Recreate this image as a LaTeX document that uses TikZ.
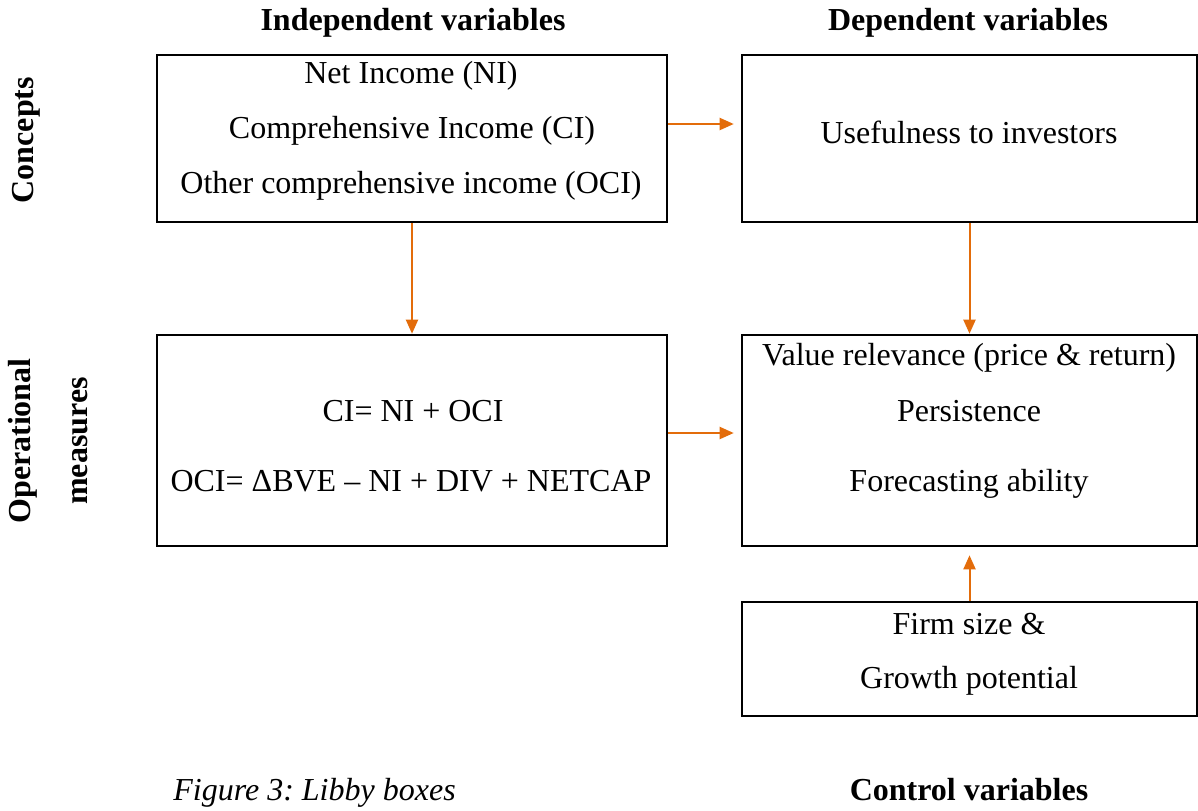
\documentclass[tikz,border=0pt]{standalone}
\usepackage{fontspec}
\setmainfont{Liberation Serif}
\usetikzlibrary{arrows.meta}
\definecolor{arrorange}{HTML}{E36C0A}
\frenchspacing
\begin{document}
\begin{tikzpicture}[x=0.5pt,y=-0.5pt,
  font=\fontsize{16pt}{19pt}\selectfont,
  box/.style={draw=black,line width=1.3pt,rectangle,inner sep=0pt},
  txt/.style={anchor=base,inner sep=0pt},
  hdr/.style={anchor=base,inner sep=0pt,font=\fontsize{16pt}{19pt}\selectfont\bfseries},
  side/.style={anchor=center,inner sep=0pt,rotate=90,font=\fontsize{16pt}{19pt}\selectfont\bfseries},
  arr/.style={draw=arrorange,line width=1pt,-{Triangle[length=7pt,width=6pt]}}]
\useasboundingbox (0,0) rectangle (1198,810);
\fill[white] (0,0) rectangle (1198,810);
% boxes
\node[box,minimum width=255pt,minimum height=83.5pt] (b1) at (412,138.5) {};
\node[box,minimum width=227.5pt,minimum height=83.5pt] (b2) at (969.5,138.5) {};
\node[box,minimum width=255pt,minimum height=105.5pt] (b3) at (412,440.5) {};
\node[box,minimum width=227.5pt,minimum height=105.5pt] (b4) at (969.5,440.5) {};
\node[box,minimum width=227.5pt,minimum height=57pt] (b5) at (969.5,659) {};
% headers
\node[hdr] (h1) at (413,30) {Independent variables};
\node[hdr] (h2) at (968,30) {Dependent variables};
\node[side] (s1) at (26,140) {Concepts};
\node[side] (s2) at (23,441) {Operational};
\node[side] (s3) at (80,441) {measures};
% texts
\node[txt] (t11) at (411,83) {Net Income (NI)};
\node[txt] (t12) at (412,138) {Comprehensive Income (CI)};
\node[txt] (t13) at (411,193) {Other comprehensive income (OCI)};
\node[txt] (t21) at (969,143) {Usefulness to investors};
\node[txt] (t31) at (413,421) {CI= NI + OCI};
\node[txt] (t32) at (411,491) {OCI= ΔBVE – NI + DIV + NETCAP};
\node[txt] (t41) at (969,365) {Value relevance (price \& return)};
\node[txt] (t42) at (969,421) {Persistence};
\node[txt] (t43) at (969,491) {Forecasting ability};
\node[txt] (t51) at (969,634) {Firm size \&};
\node[txt] (t52) at (969,688) {Growth potential};
\node[txt,anchor=base west,font=\fontsize{16pt}{19pt}\selectfont\itshape] (cap) at (173,800) {Figure 3: Libby boxes};
\node[hdr] (ctrl) at (969,800) {Control variables};
% arrows
\draw[arr] ([yshift=7.25pt]b1.east) -- ([xshift=-3.5pt,yshift=7.25pt]b2.west);
\draw[arr] (b1.south) -- (b3.north);
\draw[arr] (b2.south) -- (b4.north);
\draw[arr] ([yshift=3.75pt]b3.east) -- ([xshift=-3.5pt,yshift=3.75pt]b4.west);
\draw[arr] (b5.north) -- ([yshift=-4pt]b4.south);
\end{tikzpicture}
\end{document}
